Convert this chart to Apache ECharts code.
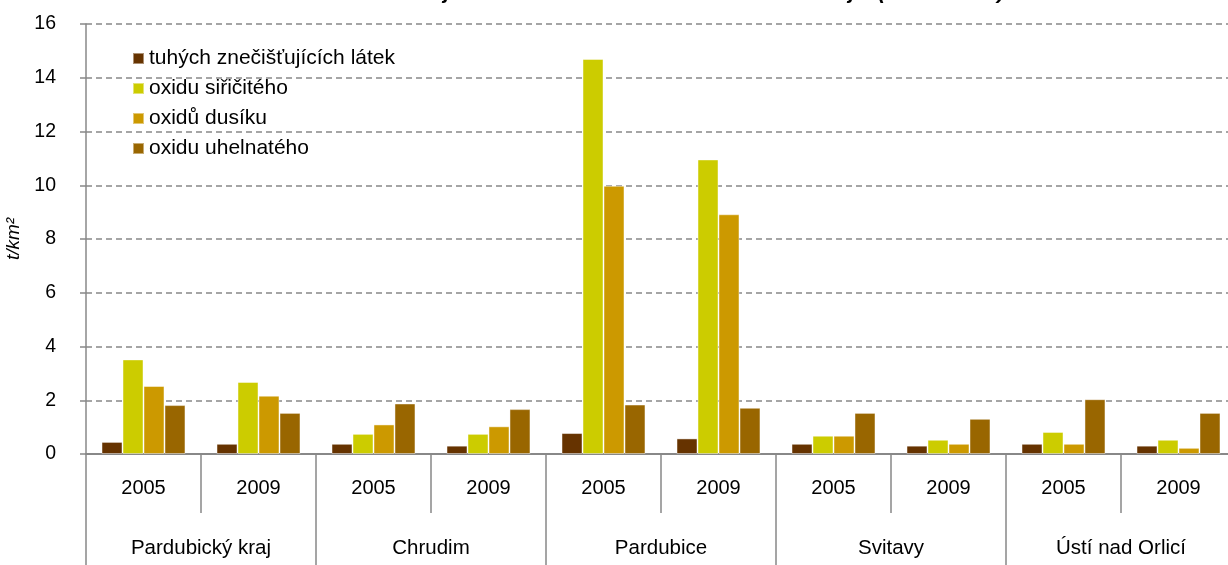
<!DOCTYPE html>
<html>
<head>
<meta charset="utf-8">
<title>Měrné emise</title>
<script src="https://cdn.jsdelivr.net/npm/echarts@6/dist/echarts.min.js"></script>
<style>
  html, body { margin: 0; padding: 0; background: #fff; }
  #chart { width: 1228px; height: 565px; }
</style>
</head>
<body>
<div id="chart"></div>
<script>
// data
const years = ["2005", "2009", "2005", "2009", "2005", "2009", "2005", "2009", "2005", "2009"];
const regions = ["Pardubický kraj", "Chrudim", "Pardubice", "Svitavy", "Ústí nad Orlicí"];
const seriesNames = ["tuhých znečišťujících látek", "oxidu siřičitého", "oxidů dusíku", "oxidu uhelnatého"];
const tuhe = [0.45, 0.38, 0.38, 0.31, 0.78, 0.58, 0.38, 0.31, 0.38, 0.31];
const so2 = [3.52, 2.68, 0.75, 0.75, 14.7, 10.96, 0.68, 0.53, 0.82, 0.53];
const nox = [2.53, 2.17, 1.1, 1.03, 9.98, 8.92, 0.68, 0.38, 0.38, 0.23];
const co = [1.82, 1.53, 1.88, 1.67, 1.84, 1.72, 1.53, 1.31, 2.04, 1.53];
const yTicks = [0, 2, 4, 6, 8, 10, 12, 14, 16];

const colors = ["#663300", "#CCCC00", "#CC9900", "#996600"];
const font = "Arial, 'Liberation Sans', sans-serif";
const gray = "#888888";

const chart = echarts.init(document.getElementById("chart"));

const makeSeries = (name, values, i) => ({
  name: name,
  type: "bar",
  xAxisIndex: 0,
  data: values,
  barGap: "0%",
  barCategoryGap: "27%",
  itemStyle: {
    color: colors[i],
    borderColor: "rgba(255,255,255,0.45)",
    borderWidth: 1,
  },
  animation: false,
});

chart.setOption({
  backgroundColor: "#ffffff",
  textStyle: { fontFamily: font },
  // title is cut off by the top edge in the reference, only descenders show
  title: {
    text: "Měrné emise znečišťujících látek v okresech Pardubického kraje  (2005 - 2009)",
    left: "center",
    top: -17,
    padding: [0, 0, 0, 96],
    textStyle: { fontFamily: font, fontSize: 21, fontWeight: "bold", fontStyle: "italic", color: "#000" },
  },
  legend: {
    orient: "vertical",
    left: 132,
    top: 48,
    padding: 0,
    itemWidth: 11,
    itemHeight: 11,
    itemGap: 9,
    icon: "rect",
    data: seriesNames,
    textStyle: { fontFamily: font, fontSize: 21, color: "#000", lineHeight: 21 },
  },
  // plot runs a little past the right edge, like the reference
  grid: {
    left: 86,
    right: -8,
    top: 24,
    bottom: 111,
    outerBoundsMode: "none",
  },
  xAxis: [
    {
      type: "category",
      data: years,
      position: "bottom",
      axisLine: { show: true, lineStyle: { color: gray, width: 2 } },
      axisTick: { show: true, interval: 0, length: 59, lineStyle: { color: gray, width: 1.5 } },
      axisLabel: { interval: 0, margin: 24, fontSize: 20, color: "#000", fontFamily: font },
      splitLine: { show: false },
    },
    {
      type: "category",
      data: regions,
      position: "bottom",
      offset: 0,
      axisLine: { show: false },
      axisTick: { show: true, interval: 0, length: 120, lineStyle: { color: gray, width: 1.5 } },
      axisLabel: { interval: 0, margin: 84, fontSize: 20.5, color: "#000", fontFamily: font },
      splitLine: { show: false },
    },
  ],
  yAxis: {
    type: "value",
    min: yTicks[0],
    max: yTicks[yTicks.length - 1],
    interval: 2,
    name: "t/km²",
    nameLocation: "middle",
    nameRotate: 90,
    nameGap: 58,
    nameTextStyle: { fontFamily: font, fontSize: 19, fontStyle: "italic", color: "#000" },
    axisLine: { show: true, lineStyle: { color: gray, width: 1.5 } },
    axisTick: { show: true, length: 6, lineStyle: { color: gray, width: 1.5 } },
    axisLabel: { margin: 30, fontSize: 19.5, color: "#000", fontFamily: font },
    splitLine: { show: true, lineStyle: { color: gray, width: 1.5, type: [6, 4] } },
  },
  series: [
    makeSeries(seriesNames[0], tuhe, 0),
    makeSeries(seriesNames[1], so2, 1),
    makeSeries(seriesNames[2], nox, 2),
    makeSeries(seriesNames[3], co, 3),
  ],
});
</script>
</body>
</html>
